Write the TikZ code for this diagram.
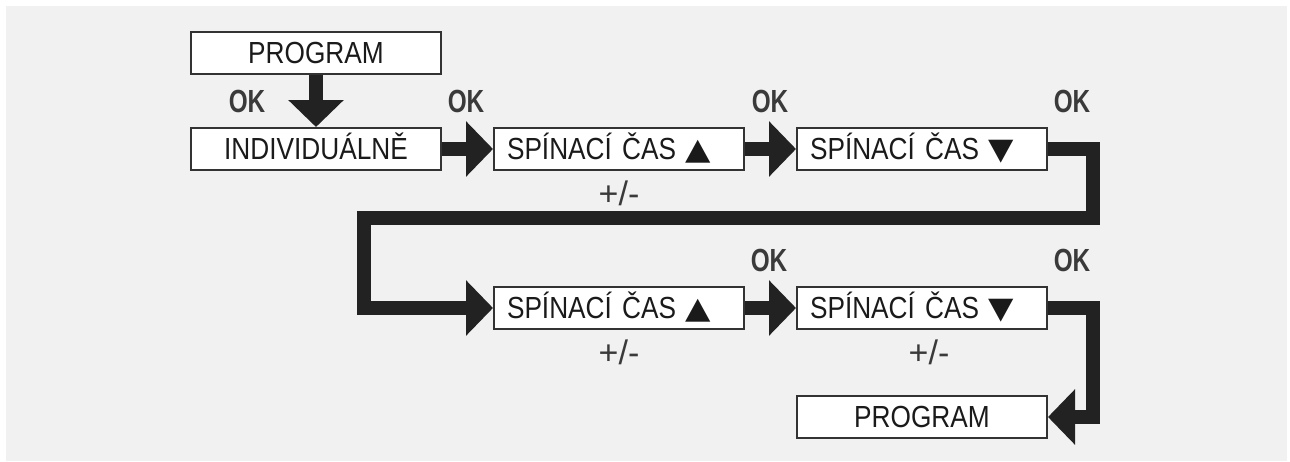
\documentclass[tikz,border=0pt]{standalone}
\usepackage{fontspec}
\setmainfont{Liberation Sans}[FakeStretch=0.86]
\newfontfamily\okfont{Liberation Sans}[FakeStretch=0.76]
\newfontfamily\pmfont{Liberation Sans}
\newfontfamily\symfont{DejaVu Sans}[FakeStretch=1.1]
\newcommand{\tri}[1]{{\symfont\fontsize{30}{30}\selectfont #1}}
\usetikzlibrary{arrows.meta}
\definecolor{bgcol}{HTML}{F1F1F1}
\definecolor{boxcol}{HTML}{333333}
\definecolor{arrcol}{HTML}{222222}
\definecolor{txtcol}{HTML}{1A1A1A}
\definecolor{okcol}{HTML}{3A3A3A}
\tikzset{
  box/.style={draw=boxcol, line width=2pt, fill=white, minimum width=250pt,
    minimum height=42pt, inner sep=0pt, font=\fontsize{30.5}{30}\selectfont,
    text height=21.8pt, text depth=0pt, text=txtcol},
  lbox/.style={box, text width=224pt, align=left},
  flow/.style={draw=arrcol, line width=14pt, line join=miter,
    -{Triangle[width=54pt,length=27pt]}},
  oklabel/.style={font=\okfont\bfseries\fontsize{32}{32}\selectfont, text=okcol, inner sep=0pt},
  pmlabel/.style={font=\pmfont\fontsize{34}{34}\selectfont, text=okcol, inner sep=0pt}
}
\begin{document}
\begin{tikzpicture}[x=1pt,y=-1pt]
\useasboundingbox (0,0) rectangle (1290,461);
\fill[bgcol] (6,6) rectangle (1287,461);

\node[box] (prog1) at (316,53) {PROGRAM};
\node[box] (ind) at (316,149) {INDIVIDUÁLNĚ};
\node[lbox] (b2) at (619,149) {SPÍNACÍ ČAS\hspace{9pt}\tri{▲}};
\node[lbox] (b3) at (922,149) {SPÍNACÍ ČAS\hspace{9pt}\tri{▼}};
\node[lbox] (b4) at (619,308) {SPÍNACÍ ČAS\hspace{9pt}\tri{▲}};
\node[lbox] (b5) at (922,308) {SPÍNACÍ ČAS\hspace{9pt}\tri{▼}};
\node[box] (prog2) at (922,417) {PROGRAM};

\coordinate (r1) at (1093,218);
\coordinate (l1) at (364,218);
\coordinate (r2) at (1093,417);

\draw[flow] (prog1.south) -- (ind.north);
\draw[flow] (ind.east) -- (b2.west);
\draw[flow] (b2.east) -- (b3.west);
\draw[flow] (b3.east) -| (r1) -- (l1) |- (b4.west);
\draw[flow] (b4.east) -- (b5.west);
\draw[flow] (b5.east) -| (r2) -- (prog2.east);

\node[oklabel] (ok1) at (247,101) {OK};
\node[oklabel] (ok2) at (466,101) {OK};
\node[oklabel] (ok3) at (770,101) {OK};
\node[oklabel] (ok4) at (1072,101) {OK};
\node[oklabel] (ok5) at (769,260) {OK};
\node[oklabel] (ok6) at (1072,260) {OK};

\node[pmlabel] (pm1) at (619,193) {+/-};
\node[pmlabel] (pm2) at (619,352) {+/-};
\node[pmlabel] (pm3) at (929,352) {+/-};
\end{tikzpicture}
\end{document}
